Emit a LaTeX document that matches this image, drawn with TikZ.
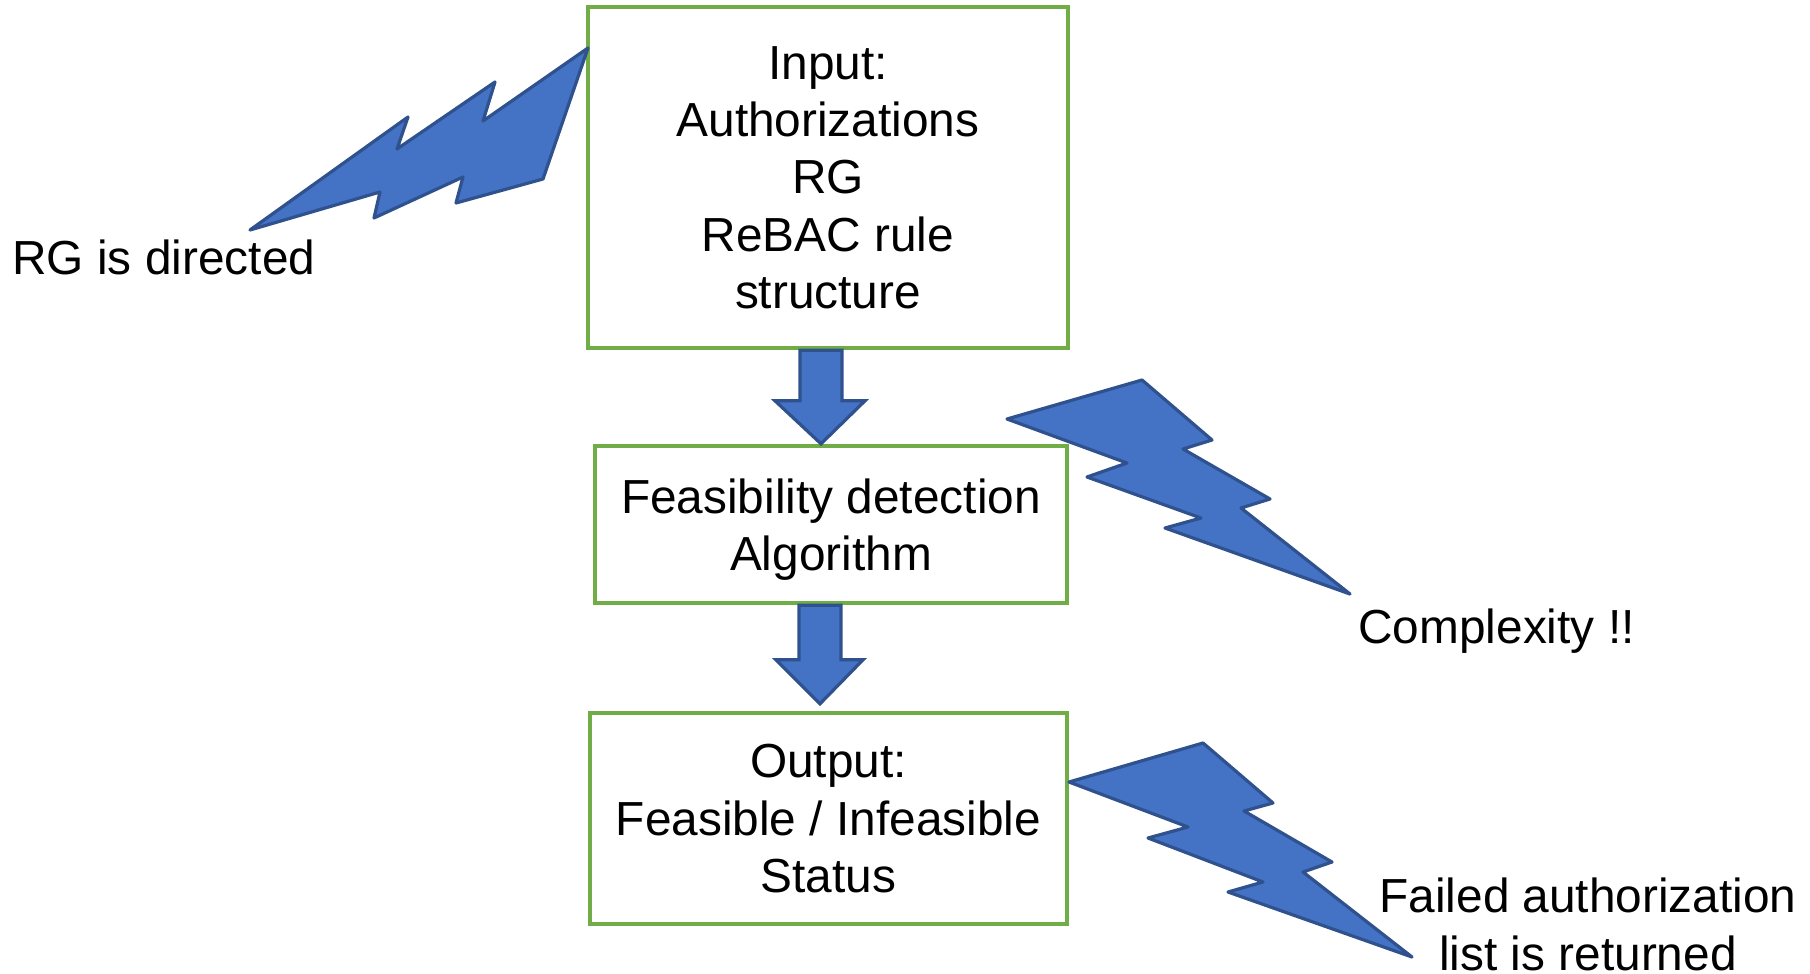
\documentclass[tikz,border=0pt]{standalone}
\usepackage{fontspec}
\setmainfont{Liberation Sans}
\usetikzlibrary{calc}
\definecolor{boxgreen}{RGB}{112,173,71}
\definecolor{boltfill}{RGB}{68,114,196}
\definecolor{boltline}{RGB}{47,82,143}
\begin{document}
\begin{tikzpicture}[x=0.5pt,y=-0.5pt,
  stepbox/.style={draw=boxgreen,line width=2.2pt,fill=white,align=center,inner sep=0pt,text depth=0pt,font=\fontsize{23.9pt}{28.7pt}\selectfont},
  bolt/.style={fill=boltfill,draw=boltline,line width=1.6pt,line join=round},
  blockarrow/.style={fill=boltfill,draw=boltline,line width=1.6pt,line join=miter},
  lbl/.style={inner sep=0pt,font=\fontsize{23.9pt}{28.7pt}\selectfont}]
\fill[white] (0,0) rectangle (1810,974);
\useasboundingbox (0,0) rectangle (1810,974);

% boxes
\node[stepbox,minimum width=240pt,minimum height=170.5pt] (inp) at (828,177.5)
  {Input:\\Authorizations\\RG\\ReBAC rule\\structure};
\node[stepbox,minimum width=236pt,minimum height=78.5pt] (alg) at (831,524.5)
  {Feasibility detection\\Algorithm};
\node[stepbox,minimum width=238.5pt,minimum height=105.5pt] (out) at (828.5,818.5)
  {Output:\\Feasible / Infeasible\\Status};

% block arrows
\coordinate (a1t) at ($(inp.south)+(-7,0)$);
\coordinate (a1e) at ($(alg.north)+(-10,0)$);
\draw[blockarrow] ($(a1t)+(-21,0)$) -- ($(a1t)+(21,0)$) -- ($(a1e)+(21,-43)$)
  -- ($(a1e)+(44,-43)$) -- (a1e) -- ($(a1e)+(-46,-43)$) -- ($(a1e)+(-21,-43)$) -- cycle;
\coordinate (a2t) at ($(alg.south)+(-11,0)$);
\coordinate (a2e) at ($(out.north)+(-8.5,-7)$);
\draw[blockarrow] ($(a2t)+(-21,0)$) -- ($(a2t)+(21,0)$) -- ($(a2e)+(21,-44)$)
  -- ($(a2e)+(43,-44)$) -- (a2e) -- ($(a2e)+(-44,-44)$) -- ($(a2e)+(-21,-44)$) -- cycle;

% lightning bolts
\draw[bolt] (250,230) -- (408,117) -- (397,149) -- (495,82) -- (483,121) -- (588,48)
  -- (543,179) -- (456,203) -- (463,177) -- (374,218) -- (380,192) -- cycle;
\draw[bolt] (1007,419) -- (1142,380) -- (1212,440) -- (1183,449) -- (1270,499)
  -- (1241,508) -- (1350,594) -- (1165,528) -- (1201,518) -- (1087,477) -- (1127,463) -- cycle;
\draw[bolt] (1069,782) -- (1203,743) -- (1273,803) -- (1244,811) -- (1332,862)
  -- (1303,872) -- (1412,957) -- (1228,892) -- (1263,882) -- (1148,838) -- (1188,827) -- cycle;

% labels
\node[lbl,anchor=base west] (rgdir) at (12,274) {RG is directed};
\node[lbl,anchor=base west] (cplx) at (1358,643) {Complexity !!};
\node[lbl,align=center,text depth=0pt,anchor=base] (fail) at (1588,970) {Failed authorization\\list is returned};
\end{tikzpicture}
\end{document}
